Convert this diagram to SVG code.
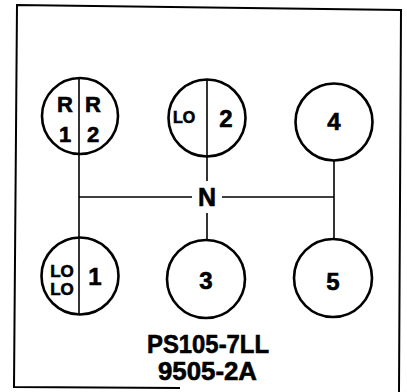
<svg xmlns="http://www.w3.org/2000/svg" width="407" height="392" viewBox="0 0 407 392">
  <style>
    .frame { fill: none; stroke: #000; stroke-width: 2; stroke-linejoin: miter; }
    .ring { fill: none; stroke: #000; stroke-width: 2.6; }
    .rod { fill: none; stroke: #000; stroke-width: 1.6; }
    text { font-family: "Liberation Sans", Arial, sans-serif; font-weight: bold; fill: #000; stroke: #000; stroke-width: 0.6; text-anchor: middle; }
    .big { font-size: 24px; }
    .mid { font-size: 22px; }
    .sm { font-size: 16px; }
    .lo { font-size: 17px; }
    .lbl { font-size: 25px; }
  </style>
  <rect width="407" height="392" fill="#fff"/>

  <!-- outer border -->
  <g id="frame">
    <path class="frame" d="M180,388 L14,387 L17,5 L401,10 L399,392"/>
  </g>

  <!-- shift pattern rails -->
  <g id="connectors">
    <path class="rod" d="M79,78 V314"/>
    <path class="rod" d="M207,80 V181"/>
    <path class="rod" d="M207,213 V240"/>
    <path class="rod" d="M334,161 V238"/>
    <path class="rod" d="M79,197 H192 M222,197 H334"/>
  </g>

  <g id="node-r1r2">
    <circle class="ring" cx="80" cy="116" r="38"/>
    <text class="mid" x="65" y="112">R</text>
    <text class="mid" x="93" y="112">R</text>
    <text class="mid" x="65" y="142">1</text>
    <text class="mid" x="93" y="142">2</text>
  </g>

  <g id="node-lo2">
    <circle class="ring" cx="207" cy="118" r="38.5"/>
    <text class="sm" x="184" y="123">LO</text>
    <text class="big" x="226" y="127">2</text>
  </g>

  <g id="node-4">
    <circle class="ring" cx="334" cy="122" r="38.5"/>
    <text class="big" x="334" y="130">4</text>
  </g>

  <g id="node-n">
    <text class="lbl" x="207" y="206">N</text>
  </g>

  <g id="node-lolo1">
    <circle class="ring" cx="80" cy="276" r="38.5"/>
    <text class="lo" x="62" y="277">LO</text>
    <text class="lo" x="62" y="295">LO</text>
    <text class="big" x="95" y="285">1</text>
  </g>

  <g id="node-3">
    <circle class="ring" cx="206" cy="279" r="39"/>
    <text class="big" x="206" y="289">3</text>
  </g>

  <g id="node-5">
    <circle class="ring" cx="333" cy="278" r="39"/>
    <text class="big" x="333" y="290">5</text>
  </g>

  <g id="caption">
    <text class="lbl" x="208" y="353" textLength="122" lengthAdjust="spacingAndGlyphs">PS105-7LL</text>
    <text class="lbl" x="207.5" y="380" textLength="99" lengthAdjust="spacingAndGlyphs">9505-2A</text>
  </g>
</svg>
